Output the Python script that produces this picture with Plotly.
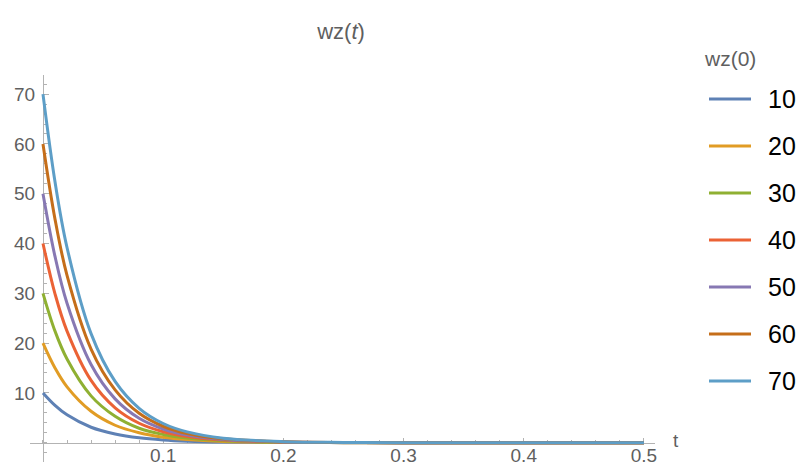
import plotly.graph_objects as go

# time samples and wz(t) readings for each initial value wz(0)
t_vals = [0, 0.01, 0.02, 0.04, 0.06, 0.08, 0.1, 0.12, 0.15, 0.2, 0.25, 0.3, 0.4, 0.5]

wz_10 = [10, 7.5, 5.6, 3.1, 1.76, 0.98, 0.55, 0.31, 0.13, 0.03, 0.01, 0, 0, 0]
wz_20 = [20, 15.0, 11.2, 6.3, 3.5, 2.0, 1.1, 0.62, 0.26, 0.06, 0.01, 0, 0, 0]
wz_30 = [30, 22.4, 16.8, 9.4, 5.3, 2.9, 1.65, 0.92, 0.39, 0.09, 0.02, 0.01, 0, 0]
wz_40 = [40, 29.9, 22.4, 12.5, 7.0, 3.9, 2.2, 1.23, 0.52, 0.12, 0.03, 0.01, 0, 0]
wz_50 = [50, 37.4, 28.0, 15.7, 8.8, 4.9, 2.75, 1.54, 0.65, 0.15, 0.04, 0.01, 0, 0]
wz_60 = [60, 44.9, 33.6, 18.8, 10.6, 5.9, 3.3, 1.85, 0.77, 0.18, 0.04, 0.01, 0, 0]
wz_70 = [70, 52.4, 39.2, 21.9, 12.3, 6.9, 3.85, 2.16, 0.90, 0.21, 0.05, 0.01, 0, 0]

series_names = ["10", "20", "30", "40", "50", "60", "70"]
series_values = [wz_10, wz_20, wz_30, wz_40, wz_50, wz_60, wz_70]
series_colors = ["#5E81B5", "#E19C24", "#8FB032", "#EB6235",
                 "#8778B3", "#C56E1A", "#5D9EC7"]

x_ticks = [0.1, 0.2, 0.3, 0.4, 0.5]
y_ticks = [10, 20, 30, 40, 50, 60, 70]

x_range = [-0.0108, 0.5092]
y_range = [-3.88, 73.84]

W, H = 797, 468
ML, MR, MT, MB = 30, 142, 75, 6
PW, PH = W - ML - MR, H - MT - MB

GRAY = "#5f5f5f"
AXIS = "#b3b3b3"
FONT = "Liberation Sans, Arial, sans-serif"


def px_to_paper(px, py):
    """Convert page pixels to plot-area paper coordinates."""
    return (px - ML) / PW, (H - MB - py) / PH


fig = go.Figure()
for name, vals, col in zip(series_names, series_values, series_colors):
    fig.add_trace(go.Scatter(
        x=t_vals, y=vals, name=name, mode="lines",
        line=dict(color=col, width=3, shape="spline", smoothing=1.0),
        showlegend=False,
    ))

# axes cross at the origin, like a math plot
x_pos = (0 - y_range[0]) / (y_range[1] - y_range[0])
y_pos = (0 - x_range[0]) / (x_range[1] - x_range[0])

fig.update_layout(
    width=W, height=H,
    margin=dict(l=ML, r=MR, t=MT, b=MB),
    paper_bgcolor="white", plot_bgcolor="white",
    font=dict(family=FONT, color=GRAY),
    showlegend=False,
    title=dict(text="wz(<i>t</i>)", x=px_to_paper(341, 0)[0], xref="paper",
               xanchor="center", y=1 - 31 / H, yref="container", yanchor="middle",
               font=dict(size=22, color=GRAY, family=FONT)),
    xaxis=dict(range=x_range, anchor="free", position=x_pos,
               showgrid=False, zeroline=False, showline=True,
               linecolor=AXIS, linewidth=1, layer="below traces",
               tickmode="array", tickvals=x_ticks,
               ticktext=[f"{v:.1f}" for v in x_ticks],
               ticks="inside", ticklen=5, tickcolor=AXIS, tickwidth=1,
               minor=dict(dtick=0.02, tick0=0, ticks="inside", ticklen=3,
                          tickcolor=AXIS, showgrid=False),
               tickfont=dict(size=19, color=GRAY, family=FONT),
               ticklabelstandoff=-4, automargin=False),
    yaxis=dict(range=y_range, anchor="free", position=y_pos,
               showgrid=False, zeroline=False, showline=True,
               linecolor=AXIS, linewidth=1, layer="below traces",
               tickmode="array", tickvals=y_ticks,
               ticks="inside", ticklen=5, tickcolor=AXIS, tickwidth=1,
               minor=dict(dtick=2, tick0=0, ticks="inside", ticklen=3,
                          tickcolor=AXIS, showgrid=False),
               tickfont=dict(size=19, color=GRAY, family=FONT),
               ticklabelstandoff=4, automargin=False),
)

# axis label at the end of the horizontal axis
tx, ty = px_to_paper(676, 440)
fig.add_annotation(text="t", x=tx, y=ty, xref="paper", yref="paper",
                   showarrow=False, xanchor="center", yanchor="middle",
                   font=dict(size=19, color=GRAY, family=FONT))

# legend: title, then one line sample + label per series
lx, ly = px_to_paper(730, 58)
fig.add_annotation(text="wz(0)", x=lx, y=ly, xref="paper", yref="paper",
                   showarrow=False, xanchor="center", yanchor="middle",
                   font=dict(size=21, color=GRAY, family=FONT))
for i, (name, col) in enumerate(zip(series_names, series_colors)):
    row_y = 99 + 47 * i
    x0, y0 = px_to_paper(709, row_y)
    x1, _ = px_to_paper(751, row_y)
    fig.add_shape(type="line", xref="paper", yref="paper",
                  x0=x0, x1=x1, y0=y0, y1=y0,
                  line=dict(color=col, width=3))
    tx0, _ = px_to_paper(766, row_y)
    fig.add_annotation(text=name, x=tx0, y=y0, xref="paper", yref="paper",
                       showarrow=False, xanchor="left", yanchor="middle",
                       font=dict(size=25, color="black", family=FONT))

fig.write_html("out.html")
